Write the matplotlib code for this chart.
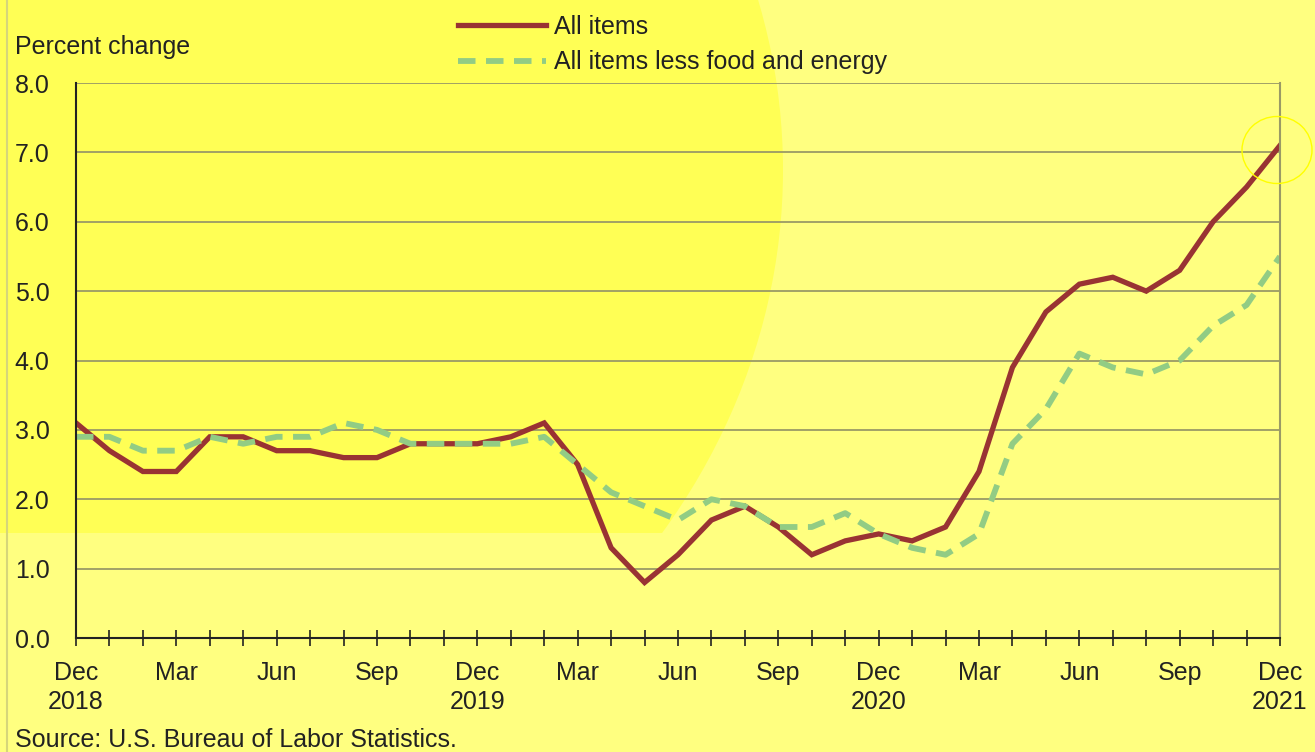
import matplotlib.pyplot as plt
import numpy as np
from matplotlib.patches import Ellipse, Rectangle

plt.rcParams['font.family'] = ['Liberation Sans', 'DejaVu Sans']

# 12-month percent change, Dec 2018 - Dec 2021
all_items = [3.1, 2.7, 2.4, 2.4, 2.9, 2.9, 2.7, 2.7, 2.6, 2.6,
             2.8, 2.8, 2.8, 2.9, 3.1, 2.5, 1.3, 0.8, 1.2, 1.7,
             1.9, 1.6, 1.2, 1.4, 1.5, 1.4, 1.6, 2.4, 3.9, 4.7,
             5.1, 5.2, 5.0, 5.3, 6.0, 6.5, 7.1]
core_items = [2.9, 2.9, 2.7, 2.7, 2.9, 2.8, 2.9, 2.9, 3.1, 3.0,
              2.8, 2.8, 2.8, 2.8, 2.9, 2.5, 2.1, 1.9, 1.7, 2.0,
              1.9, 1.6, 1.6, 1.8, 1.5, 1.3, 1.2, 1.5, 2.8, 3.3,
              4.1, 3.9, 3.8, 4.0, 4.5, 4.8, 5.5]
month_names = ['Dec', 'Jan', 'Feb', 'Mar', 'Apr', 'May', 'Jun',
               'Jul', 'Aug', 'Sep', 'Oct', 'Nov']
years = ['2018', '2019', '2020', '2021']
y_ticks = [0, 1, 2, 3, 4, 5, 6, 7, 8]

x = np.arange(len(all_items))
x_labels = []
for i in x:
    name = month_names[i % 12]
    if i % 12 == 0:
        x_labels.append(name + '\n' + years[i // 12])
    elif i % 3 == 0:
        x_labels.append(name)
    else:
        x_labels.append('')

FS = 18
W, H = 1315, 752
fig = plt.figure(figsize=(W / 100, H / 100), dpi=100, facecolor='#FFFF80')

# background decoration (pixel coords)
bg = fig.add_axes([0, 0, 1, 1], zorder=-1)
bg.set_xlim(0, W)
bg.set_ylim(H, 0)
bg.axis('off')
blob = Ellipse((0, 170), 2 * 783, 2 * 680, facecolor='#FFFF55', edgecolor='none')
bg.add_patch(blob)
blob.set_clip_path(Rectangle((0, 0), W, 533, transform=bg.transData))
bg.plot([7, 7], [0, H], color='#D6D67A', lw=1.5)

ax = fig.add_axes([76 / W, 1 - 638 / H, 1204 / W, 555 / H])
ax.set_facecolor('none')
ax.plot(x, all_items, color='#993333', lw=3.8, label='All items',
        solid_joinstyle='miter')
ax.plot(x, core_items, color='#92CC84', lw=4.2, dashes=(3, 1.8),
        label='All items less food and energy')

ax.set_xlim(0, 36)
ax.set_ylim(0, 8)
ax.set_yticks(y_ticks)
ax.set_yticklabels([f'{v:.1f}' for v in y_ticks])
ax.set_xticks(x)
ax.set_xticklabels(x_labels, linespacing=1.25)
ax.yaxis.grid(True, color='#9A9A66', lw=1.3)
ax.set_axisbelow(True)
ax.tick_params(axis='y', length=0, pad=19, labelsize=FS, labelcolor='#222222')
ax.tick_params(axis='x', direction='inout', length=11, width=1.2,
               color='#222222', pad=11, labelsize=FS, labelcolor='#222222')
ax.spines['top'].set_visible(False)
ax.spines['right'].set_color('#9A9A66')
ax.spines['right'].set_linewidth(1.5)
for s in ['left', 'bottom']:
    ax.spines[s].set_color('#222222')
    ax.spines[s].set_linewidth(1.5)

fig.legend(loc='upper left', bbox_to_anchor=(458 / W, 1 - 15 / H), frameon=False,
           handlelength=3.5, handletextpad=0.32, labelspacing=0.45,
           borderpad=0, borderaxespad=0, fontsize=FS, labelcolor='#222222')

fig.text(15 / W, 1 - 47 / H, 'Percent change', va='center', fontsize=FS, color='#222222')
fig.text(15 / W, 1 - 740 / H, 'Source: U.S. Bureau of Labor Statistics.',
         va='center', fontsize=FS, color='#222222')

fig.add_artist(Ellipse((1277, 150), 70, 67, fill=False, edgecolor='#FFFF00',
                       lw=1, transform=bg.transData, zorder=10))

fig.savefig('out.png', dpi=100, facecolor=fig.get_facecolor())
